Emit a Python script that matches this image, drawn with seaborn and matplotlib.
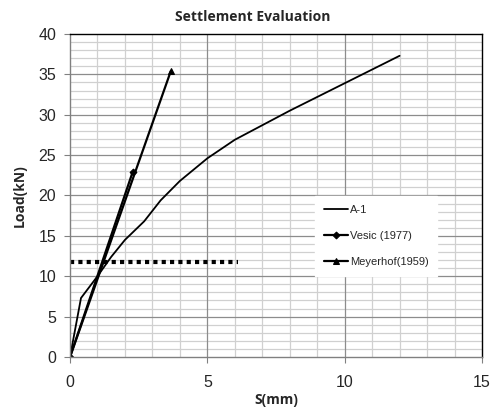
import numpy as np
import pandas as pd
import matplotlib
matplotlib.use("Agg")
import matplotlib.pyplot as plt
import seaborn as sns

# data
a1_s = [0, 0.4, 1.0, 1.5, 2.0, 2.7, 3.3, 4.0, 5.0, 6.0, 7.0, 8.0, 9.0, 10.0, 11.0, 12.0]
a1_load = [0, 7.3, 10.0, 12.4, 14.5, 16.8, 19.4, 21.8, 24.6, 26.9, 28.7, 30.5, 32.2, 33.9, 35.6, 37.3]

vesic_s = [0, 2.28]
vesic_load = [0, 22.9]

meyerhof_s = [0, 3.67]
meyerhof_load = [0, 35.4]

limit_s = [0, 6.1]
limit_load = [11.75, 11.75]

x_major = [0, 5, 10, 15]
y_major = [0, 5, 10, 15, 20, 25, 30, 35, 40]

sns.set_style("white")
plt.rcParams["font.family"] = ["Liberation Sans", "DejaVu Sans"]

fig = plt.figure(figsize=(4.94, 4.08), dpi=100)
ax = fig.add_axes([0.1417, 0.125, 0.834, 0.7917])

# grid: minor every 1, major every 5 (major drawn on top of minor)
ax.set_xticks(np.arange(0, 16, 1), minor=True)
ax.set_yticks(np.arange(0, 41, 1), minor=True)
ax.set_xticks(x_major)
ax.set_yticks(y_major)
ax.grid(which="minor", color="#d0d0d0", linewidth=0.9)
ax.grid(which="major", visible=False)
ax.set_axisbelow(True)
for v in x_major[1:-1]:
    ax.axvline(v, color="#8c8c8c", linewidth=0.9, zorder=0.8)
for v in y_major[1:-1]:
    ax.axhline(v, color="#8c8c8c", linewidth=0.9, zorder=0.8)

sns.lineplot(x=limit_s, y=limit_load, ax=ax, color="black", linewidth=3,
             linestyle=(0, (1, 1)), sort=False)
sns.lineplot(x=a1_s, y=a1_load, ax=ax, color="black", linewidth=1.3,
             sort=False, label="A-1")
sns.lineplot(x=vesic_s, y=vesic_load, ax=ax, color="black", linewidth=1.6,
             marker="D", markersize=3.5, markeredgecolor="black",
             sort=False, label="Vesic (1977)")
sns.lineplot(x=meyerhof_s, y=meyerhof_load, ax=ax, color="black", linewidth=1.6,
             marker="^", markersize=5, markeredgecolor="black",
             sort=False, label="Meyerhof(1959)")

ax.set_xlim(0, 15)
ax.set_ylim(0, 40)

for side in ["left", "bottom"]:
    ax.spines[side].set_color("#808080")
for side in ["top", "right"]:
    ax.spines[side].set_color("black")
for sp in ax.spines.values():
    sp.set_linewidth(1.0)

ax.tick_params(which="major", direction="out", length=4, color="#808080",
               labelsize=11.5, bottom=True, left=True)
ax.tick_params(axis="x", which="major", pad=9)
ax.tick_params(axis="y", which="major", pad=6)
ax.tick_params(which="minor", length=0)

fig.text(0.512, 0.958, "Settlement Evaluation", fontsize=10, fontweight="bold",
         family=["Open Sans", "DejaVu Sans"], ha="center", va="center")
ax.set_xlabel("S(mm)", fontsize=10, fontweight="bold",
              family=["Open Sans", "DejaVu Sans"], labelpad=2)
ax.set_ylabel("Load(kN)", fontsize=10, fontweight="bold",
              family=["Open Sans", "DejaVu Sans"], labelpad=8)

leg = ax.legend(loc="upper left", bbox_to_anchor=(0.582, 0.515), fontsize=8,
                frameon=True, fancybox=False, edgecolor="white",
                framealpha=1, handlelength=2.1, handletextpad=0.2,
                labelspacing=1.45, borderpad=0.8)

fig.savefig("out.png", dpi=100)
